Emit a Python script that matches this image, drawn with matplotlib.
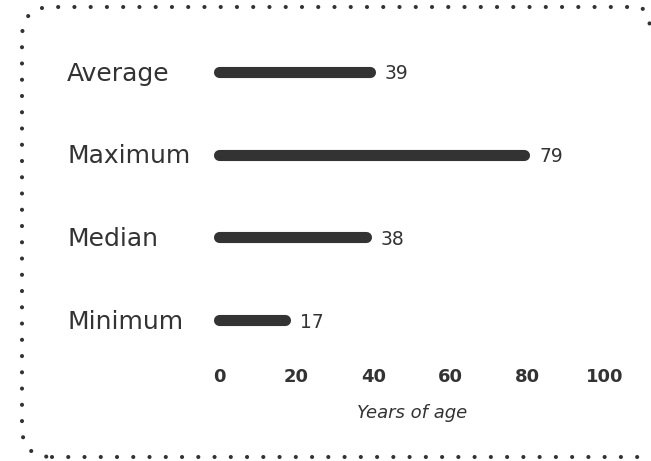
import matplotlib
matplotlib.use("Agg")
import matplotlib.pyplot as plt
import matplotlib.transforms as mtransforms
from matplotlib.patches import FancyBboxPatch

plt.rcParams['font.family'] = ['DejaVu Sans']

# data
categories = ["Average", "Maximum", "Median", "Minimum"]
ages = [39, 79, 38, 17]
ticks = [0, 20, 40, 60, 80, 100]
xlabel = "Years of age"

ink = "#333333"
W, H = 651, 461

fig = plt.figure(figsize=(W / 100, H / 100), dpi=100)
ax = fig.add_axes([219 / W, 1 - 361.5 / H, 386 / W, 331 / H])

ypos = list(range(len(categories)))[::-1]
for y, v in zip(ypos, ages):
    ax.plot([0, v], [y, y], color=ink, lw=8, solid_capstyle="round", clip_on=False)
    ax.annotate(str(v), (v, y), xytext=(11, -1.5), textcoords="offset points",
                ha="left", va="center", fontsize=13.5, color=ink)

# category names, left aligned near the frame
lab_tr = mtransforms.blended_transform_factory(fig.transFigure, ax.transData)
for y, c in zip(ypos, categories):
    ax.text(67 / W, y - 0.02, c, transform=lab_tr, ha="left", va="center",
            fontsize=18, color=ink)

ax.set_xlim(0, 100)
ax.set_ylim(-0.5, len(categories) - 0.5)
ax.set_xticks(ticks)
ax.set_xticklabels([str(t) for t in ticks], fontsize=13, fontweight="bold", color=ink)
ax.set_yticks([])
ax.tick_params(axis="x", length=0, pad=5)
for s in ax.spines.values():
    s.set_visible(False)
ax.set_xlabel(xlabel, fontsize=13, style="italic", color=ink, labelpad=13)

# dotted rounded frame in figure fractions, right side runs off the figure
frame = FancyBboxPatch((22 / W, (H - 457) / H), (669 - 22) / W, (457 - 7) / H,
                       boxstyle="round,pad=0,rounding_size=%f" % (30 / W),
                       mutation_aspect=W / H,
                       transform=fig.transFigure,
                       fill=False, edgecolor=ink, linewidth=3,
                       linestyle=(0, (0.001, 3.9)))
frame.set_capstyle("round")
frame.set_clip_box(fig.bbox)
frame.set_clip_on(True)
fig.patches.append(frame)

fig.savefig("out.png", dpi=100, facecolor="white")
